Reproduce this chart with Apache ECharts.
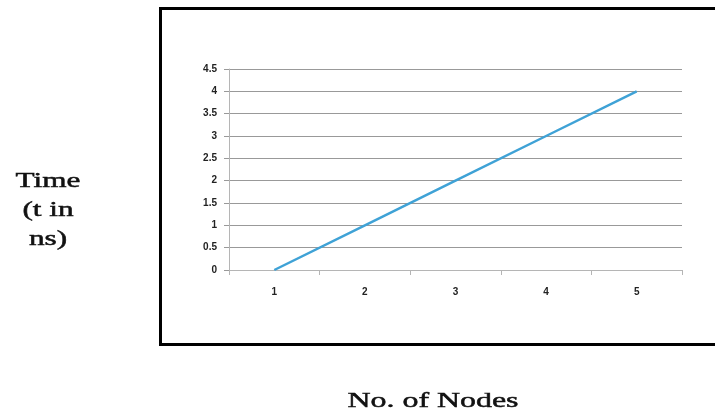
<!DOCTYPE html>
<html>
<head>
<meta charset="utf-8">
<script src="https://cdn.jsdelivr.net/npm/echarts@6/dist/echarts.min.js"></script>
<style>
  html, body { margin: 0; padding: 0; background: #fff; }
  #main { width: 715px; height: 412px; }
</style>
</head>
<body>
<div id="main"></div>
<script>
// 数据
var categories = ['1', '2', '3', '4', '5'];
var timeValues = [0, 1, 2, 3, 4];
var yTicks = [0, 0.5, 1, 1.5, 2, 2.5, 3, 3.5, 4, 4.5];

var myChart = echarts.init(document.getElementById('main'));

var serifFont = '22px "Liberation Serif", "DejaVu Serif", serif';

var option = {
    backgroundColor: '#fff',
    animation: false,
    grid: {
        left: 229,
        right: 33,
        top: 69,
        bottom: 142
    },
    // 外框和标题文字（原图横向拉伸，用 scaleX 模拟）
    graphic: [
        {
            type: 'rect',
            shape: { x: 160.5, y: 8.5, width: 600, height: 336 },
            style: { fill: 'none', stroke: '#000', lineWidth: 3 }
        },
        {
            type: 'text',
            x: 48, y: 210,
            scaleX: 1.42,
            style: {
                text: 'Time\n(t in\nns)',
                x: 0, y: 0,
                align: 'center',
                verticalAlign: 'middle',
                font: serifFont,
                fill: '#111',
                stroke: '#111',
                lineWidth: 0.5,
                lineHeight: 29
            }
        },
        {
            type: 'text',
            x: 433, y: 401,
            scaleX: 1.45,
            style: {
                text: 'No. of Nodes',
                x: 0, y: 0,
                align: 'center',
                verticalAlign: 'middle',
                font: serifFont,
                fill: '#111',
                stroke: '#111',
                lineWidth: 0.5
            }
        }
    ],
    xAxis: {
        type: 'category',
        data: categories,
        boundaryGap: true,
        axisLine: { lineStyle: { color: '#b5b5b5', width: 1 } },
        axisTick: { show: true, length: 5, lineStyle: { color: '#b5b5b5' } },
        axisLabel: {
            margin: 17,
            color: '#222',
            fontSize: 10,
            fontWeight: 'bold',
            fontFamily: 'Arial, "Liberation Sans", sans-serif'
        }
    },
    yAxis: {
        type: 'value',
        min: yTicks[0],
        max: yTicks[yTicks.length - 1],
        interval: 0.5,
        axisLine: { show: true, lineStyle: { color: '#b5b5b5', width: 1 } },
        axisTick: { show: true, length: 5, lineStyle: { color: '#999' } },
        splitLine: { show: true, lineStyle: { color: '#999', width: 1 } },
        axisLabel: {
            margin: 12,
            color: '#222',
            fontSize: 10,
            fontWeight: 'bold',
            fontFamily: 'Arial, "Liberation Sans", sans-serif'
        }
    },
    series: [
        {
            name: 'Time',
            type: 'line',
            data: timeValues,
            symbol: 'none',
            lineStyle: { color: '#3fa2d6', width: 2.5 }
        }
    ]
};

myChart.setOption(option);
</script>
</body>
</html>
